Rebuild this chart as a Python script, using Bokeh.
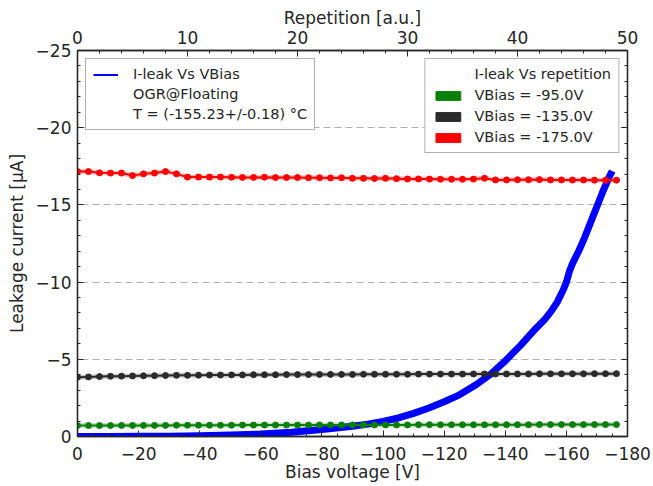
from bokeh.plotting import figure
from bokeh.models import (Range1d, LinearAxis, FixedTicker, Legend, LegendItem,
                          CustomJSTickFormatter)
from bokeh.embed import file_html
from bokeh.resources import INLINE

# ---- data ----
bias_v = [0, -10, -20, -30, -40, -50, -60, -70, -80, -90, -95, -100, -105, -110,
          -115, -120, -125, -130, -135, -140, -145, -150, -153, -155, -157, -159,
          -160, -161, -162, -164, -166, -168, -170, -172, -174, -175]
leak_i = [0.0, 0.0, -0.01, -0.02, -0.05, -0.10, -0.16, -0.27, -0.45, -0.67, -0.80,
          -0.98, -1.2, -1.5, -1.85, -2.25, -2.7, -3.3, -4.0, -4.9, -5.9, -7.0, -7.6,
          -8.1, -8.7, -9.5, -10.0, -10.7, -11.2, -12.0, -12.9, -13.9, -14.9, -15.9,
          -16.8, -17.2]

repetition = list(range(50))
green_95 = [-0.71, -0.71, -0.71, -0.71, -0.72, -0.72, -0.72, -0.72, -0.72, -0.73,
            -0.73, -0.73, -0.73, -0.73, -0.73, -0.74, -0.74, -0.74, -0.74, -0.74,
            -0.74, -0.74, -0.75, -0.75, -0.75, -0.75, -0.75, -0.75, -0.75, -0.75,
            -0.75, -0.76, -0.76, -0.76, -0.76, -0.76, -0.76, -0.76, -0.76, -0.76,
            -0.76, -0.76, -0.77, -0.77, -0.77, -0.77, -0.77, -0.77, -0.77, -0.77]
black_135 = [-3.84, -3.86, -3.88, -3.90, -3.91, -3.92, -3.93, -3.94, -3.95, -3.96,
             -3.96, -3.97, -3.98, -3.98, -3.99, -3.99, -4.00, -4.00, -4.00, -4.01,
             -4.01, -4.01, -4.02, -4.02, -4.02, -4.02, -4.03, -4.03, -4.03, -4.03,
             -4.03, -4.04, -4.04, -4.04, -4.04, -4.04, -4.05, -4.05, -4.05, -4.05,
             -4.05, -4.05, -4.06, -4.06, -4.06, -4.06, -4.06, -4.07, -4.07, -4.07]
red_175 = [-17.16, -17.16, -17.08, -17.06, -17.06, -16.90, -17.01, -17.06, -17.16,
           -17.01, -16.80, -16.80, -16.80, -16.80, -16.79, -16.78, -16.78, -16.79,
           -16.77, -16.77, -16.77, -16.76, -16.76, -16.75, -16.76, -16.72, -16.72,
           -16.71, -16.72, -16.70, -16.68, -16.68, -16.67, -16.66, -16.66, -16.66,
           -16.67, -16.73, -16.62, -16.62, -16.63, -16.63, -16.64, -16.62, -16.62,
           -16.61, -16.61, -16.60, -16.60, -16.60]

x_ticks = [0, -20, -40, -60, -80, -100, -120, -140, -160, -180]
y_ticks = [0, -5, -10, -15, -20, -25]
rep_ticks = [0, 10, 20, 30, 40, 50]

legend_left_labels = ["I-leak Vs VBias", "OGR@Floating", "T = (-155.23+/-0.18) \u00b0C"]
legend_right_labels = ["I-leak Vs repetition", "VBias = -95.0V", "VBias = -135.0V",
                       "VBias = -175.0V"]

TXT = "#262626"
FONT = "DejaVu Sans"
GREEN = "#0a800a"
BLACK = "#2b2b2b"
RED = "#ff0000"
BLUE = "#0000ff"

p = figure(width=653, height=486, output_backend="svg",
           toolbar_location=None, x_range=Range1d(0, -180), y_range=Range1d(0, -25),
           x_axis_location=None, y_axis_location=None,
           min_border_left=77, min_border_top=50, min_border_right=26,
           min_border_bottom=50)
p.extra_x_ranges = {"rep": Range1d(0, 50)}
p.background_fill_color = "white"
p.border_fill_color = "white"
p.outline_line_color = TXT
p.outline_line_width = 1.3

minus_fmt = CustomJSTickFormatter(code="return tick == 0 ? '0' : (tick < 0 ? '\u2212' + Math.abs(tick) : '' + tick);")


def style_axis(ax, lab_standoff, ax_standoff):
    ax.axis_line_color = TXT
    ax.axis_line_width = 1.3
    ax.major_tick_in = 6
    ax.major_tick_out = 0
    ax.minor_tick_in = 3
    ax.minor_tick_out = 0
    ax.major_tick_line_color = TXT
    ax.minor_tick_line_color = TXT
    ax.major_label_text_font = FONT
    ax.major_label_text_color = TXT
    ax.major_label_text_font_size = "17px"
    ax.axis_label_text_font = FONT
    ax.axis_label_text_color = TXT
    ax.axis_label_text_font_size = "17px"
    ax.axis_label_text_font_style = "normal"
    ax.major_label_standoff = lab_standoff
    ax.axis_label_standoff = ax_standoff


xb = LinearAxis(ticker=FixedTicker(ticks=x_ticks, minor_ticks=list(range(0, -181, -5))),
                formatter=minus_fmt, axis_label="Bias voltage [V]")
style_axis(xb, 10, -1)
p.add_layout(xb, "below")

yl = LinearAxis(ticker=FixedTicker(ticks=y_ticks, minor_ticks=list(range(0, -26, -1))),
                formatter=minus_fmt, axis_label="Leakage current [\u03bcA]")
style_axis(yl, 6, 6)
p.add_layout(yl, "left")

yr = LinearAxis(ticker=FixedTicker(ticks=y_ticks, minor_ticks=list(range(0, -26, -1))),
                formatter=CustomJSTickFormatter(code="return '';"))
style_axis(yr, 0, 0)
p.add_layout(yr, "right")

xt = LinearAxis(x_range_name="rep",
                ticker=FixedTicker(ticks=rep_ticks, minor_ticks=list(range(0, 51, 2))),
                axis_label="Repetition [a.u.]")
style_axis(xt, 7, 0)
p.add_layout(xt, "above")

# grid
p.xgrid.visible = False
p.ygrid.ticker = FixedTicker(ticks=y_ticks)
p.ygrid.grid_line_color = "#b0b0b0"
p.ygrid.grid_line_dash = "7 4"
p.ygrid.grid_line_width = 1.2

# IV curve
p.line(bias_v, leak_i, line_color=BLUE, line_width=7, line_join="round")

# repetition series
series = [(green_95, GREEN), (black_135, BLACK), (red_175, RED)]
for vals, col in series:
    p.line(repetition, vals, x_range_name="rep", line_color=col, line_width=5, line_alpha=0.25)
    p.line(repetition, vals, x_range_name="rep", line_color=col, line_width=2)
    p.scatter(repetition, vals, x_range_name="rep", size=6, fill_color=col, line_color=col)

# legend proxy renderers (placed far outside the visible ranges)
OFF = [1000, 1001]
blue_proxy = p.line(OFF, OFF, line_color=BLUE, line_width=2)
blank1 = p.line(OFF, OFF, line_alpha=0)
blank2 = p.line(OFF, OFF, line_alpha=0)
blank3 = p.line(OFF, OFF, line_alpha=0)
patch_g = p.quad(top=[1001], bottom=[1000], left=[1000], right=[1001],
                 fill_color=GREEN, line_color=GREEN)
patch_k = p.quad(top=[1001], bottom=[1000], left=[1000], right=[1001],
                 fill_color=BLACK, line_color=BLACK)
patch_r = p.quad(top=[1001], bottom=[1000], left=[1000], right=[1001],
                 fill_color=RED, line_color=RED)

leg_l = Legend(items=[LegendItem(label=legend_left_labels[0], renderers=[blue_proxy]),
                      LegendItem(label=legend_left_labels[1], renderers=[blank1]),
                      LegendItem(label=legend_left_labels[2], renderers=[blank2])],
               location="top_left")
leg_r = Legend(items=[LegendItem(label=legend_right_labels[0], renderers=[blank3]),
                      LegendItem(label=legend_right_labels[1], renderers=[patch_g]),
                      LegendItem(label=legend_right_labels[2], renderers=[patch_k]),
                      LegendItem(label=legend_right_labels[3], renderers=[patch_r])],
               location="top_right")
for lg, gw, so, sp in ((leg_l, 25, 15, 4), (leg_r, 31, 11, 5)):
    lg.glyph_width = gw
    lg.glyph_height = 11
    lg.label_standoff = so
    lg.label_height = 16
    lg.spacing = sp
    lg.padding = 7
    lg.margin = 8
    lg.label_text_font = FONT
    lg.label_text_font_size = "14.5px"
    lg.label_text_color = TXT
    lg.border_line_color = "#666666"
    lg.border_line_width = 1
    lg.background_fill_color = "white"
    lg.background_fill_alpha = 1.0
    p.add_layout(lg, "center")

open("out.html", "w").write(file_html(p, INLINE))
